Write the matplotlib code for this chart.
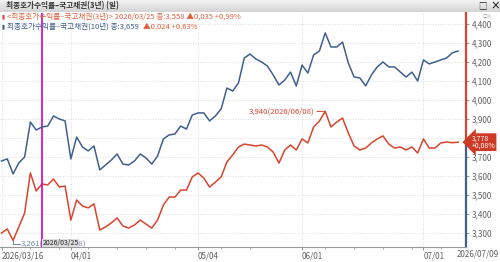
import matplotlib.pyplot as plt
import numpy as np
import pandas as pd

plt.rcParams['font.family'] = ['Noto Sans CJK KR', 'DejaVu Sans']

# trading days (KRX holidays removed)
holidays = ['2026-05-01', '2026-05-05', '2026-05-25', '2026-06-03']
dates = [d for d in pd.bdate_range('2026-03-16', '2026-07-09')
         if d.strftime('%Y-%m-%d') not in holidays]

ktb3 = [3.300, 3.321, 3.261, 3.332, 3.405, 3.616, 3.521, 3.558, 3.553, 3.584,
        3.542, 3.547, 3.368, 3.474, 3.442, 3.432, 3.453, 3.316, 3.332, 3.353,
        3.379, 3.337, 3.326, 3.342, 3.368, 3.347, 3.326, 3.368, 3.447, 3.489,
        3.489, 3.526, 3.526, 3.595, 3.616, 3.589, 3.542, 3.568, 3.595, 3.674,
        3.711, 3.753, 3.768, 3.763, 3.758, 3.763, 3.753, 3.726, 3.668, 3.737,
        3.763, 3.737, 3.795, 3.774, 3.858, 3.889, 3.940, 3.858, 3.884, 3.905,
        3.826, 3.758, 3.737, 3.747, 3.774, 3.795, 3.811, 3.768, 3.747, 3.753,
        3.737, 3.753, 3.721, 3.795, 3.747, 3.747, 3.774, 3.779, 3.775, 3.778]

ktb10 = [3.480, 3.491, 3.412, 3.470, 3.501, 3.685, 3.643, 3.659, 3.664, 3.717,
         3.701, 3.691, 3.491, 3.606, 3.554, 3.533, 3.559, 3.433, 3.459, 3.485,
         3.517, 3.464, 3.459, 3.480, 3.517, 3.496, 3.464, 3.506, 3.596, 3.617,
         3.622, 3.664, 3.648, 3.722, 3.733, 3.733, 3.691, 3.717, 3.754, 3.864,
         3.848, 3.891, 4.022, 4.043, 4.017, 4.001, 3.980, 3.933, 3.880, 3.906,
         3.948, 3.875, 3.985, 3.943, 4.038, 4.059, 4.154, 4.080, 4.080, 4.106,
         3.996, 3.922, 3.917, 3.875, 3.933, 3.975, 4.001, 3.975, 3.975, 3.948,
         3.922, 3.948, 3.901, 4.012, 3.991, 4.001, 4.012, 4.022, 4.049, 4.059]

tick_dates = ['2026-03-16', '2026-04-01', '2026-05-04', '2026-06-01', '2026-07-01']
tick_labels = ['2026/03/16', '04/01', '05/04', '06/01', '07/01']
ytick_vals = [3.3, 3.4, 3.5, 3.6, 3.7, 3.8, 3.9, 4.0, 4.1, 4.2, 4.3, 4.4]
cursor_date = '2026-03-25'

red = '#d8442e'
blue = '#3f5f8e'
grey = '#606060'

idx = {d.strftime('%Y-%m-%d'): i for i, d in enumerate(dates)}
x = np.arange(len(dates))

fig = plt.figure(figsize=(5, 2.62), dpi=100)
ax = fig.add_axes([0, 15 / 262, 466 / 500, 234 / 262])
ax.set_xlim(-0.26, 80.36)
ax.set_ylim(3.2263, 4.4579)

ax2 = ax.twinx()
ax2.set_ylim(3.2263 - 0.199, 4.4579 - 0.199)
ax2.axis('off')

ax.plot(x, ktb3, color=red, lw=1.1, zorder=3)
ax2.plot(x, ktb10, color=blue, lw=1.1)

# grid
ax.set_yticks(ytick_vals)
ax.set_yticklabels([f'{v:.3f}'.replace('.', ',') for v in ytick_vals])
ax.yaxis.tick_right()
ax.tick_params(axis='y', labelsize=5.8, labelcolor=grey, length=2, color='#999999', pad=2)
tick_pos = [idx[d] for d in tick_dates]
ax.set_xticks(tick_pos)
ax.set_xticklabels(tick_labels, ha='left')
mondays = [i for i, d in enumerate(dates) if d.weekday() == 0]
ax.set_xticks(mondays, minor=True)
ax.tick_params(axis='x', labelsize=5.8, labelcolor=grey, length=2, color='#999999', pad=1.5)
ax.tick_params(axis='x', which='minor', length=1.5, color='#999999')
ax.grid(True, color='#d4d4d4', linestyle=(0, (1, 2)), lw=0.6)
for s in ['left', 'top', 'right']:
    ax.spines[s].set_visible(False)
ax.spines['bottom'].set_color('#999999')
fig.text(499 / 500, 1 - 249.5 / 262, '2026/07/09', ha='right', va='top',
         fontsize=5.8, color=grey)

# right axis line split at last value
ytr = ax.get_yaxis_transform()
ax.plot([1, 1], [ktb3[-1], ax.get_ylim()[1]], transform=ytr, color=red, lw=1.6, clip_on=False)
ax.plot([1, 1], [ax.get_ylim()[0], ktb3[-1]], transform=ytr, color=blue, lw=1.6, clip_on=False)
ax.text(1.012, ktb3[-1], f'{ktb3[-1]:.3f}'.replace('.', ',') + '\n+0,08%', transform=ytr,
        ha='left', va='center', fontsize=5, color='white', linespacing=0.95,
        bbox=dict(boxstyle='larrow,pad=0.15', fc='#cf3a26', ec='none'), zorder=5, clip_on=False)

# cursor
ci = idx[cursor_date]
ax.axvline(ci, color='#cc00cc', lw=1.2, zorder=4)
ax.text(ci + 0.1, 3.2263, cursor_date.replace('-', '/'), ha='left', va='bottom', fontsize=5,
        color='#222222', zorder=6,
        bbox=dict(boxstyle='square,pad=0.05', fc='#dddddd', ec='none'))

# max / min annotations
imax = int(np.argmax(ktb3))
ax.annotate(f'{ktb3[imax]:.3f}'.replace('.', ',') + '(' + dates[imax].strftime('%Y/%m/%d') + ')',
            xy=(imax, ktb3[imax]), xytext=(-8, 0), textcoords='offset points',
            ha='right', va='center', fontsize=5.6, color=red,
            arrowprops=dict(arrowstyle='-', color=red, lw=0.7, shrinkA=0, shrinkB=0))
imin = int(np.argmin(ktb3))
ax.plot([imin, imin, imin + 1.2], [ktb3[imin], 3.242, 3.242], color='#6a86b0', lw=0.7)
ax.text(imin + 1.3, 3.242, f'{ktb3[imin]:.3f}'.replace('.', ',') + '(' + dates[imin].strftime('%Y/%m/%d') + ')',
        ha='left', va='center', fontsize=5.6, color='#6a86b0')

# header bar
hax = fig.add_axes([0, 1 - 12 / 262, 1, 12 / 262])
grad = np.linspace(0.95, 0.83, 20).reshape(-1, 1)
hax.imshow(grad, aspect='auto', cmap='gray', vmin=0, vmax=1, extent=[0, 1, 0, 1])
hax.axis('off')
hax.text(0.012, 0.5, '최종호가수익률–국고채권(3년) (일)', va='center', ha='left',
         fontsize=5.5, color='#333333', fontweight='bold')
hax.text(0.965, 0.5, '□', va='center', ha='center', fontsize=6, color='#222222')
hax.text(0.99, 0.5, '×', va='center', ha='center', fontsize=7, color='#222222', fontweight='bold')
fig.text(0.975, 1 - 16 / 262, '□×', fontsize=3.5, color='#999999', ha='center', va='center')

# legend lines
fig.text(2 / 500, 1 - 17 / 262, '▮', fontsize=4, color=red, va='center')
fig.text(7 / 500, 1 - 17 / 262,
         '<최종호가수익률–국고채권(3년)> 2026/03/25 종:3,558 ▲0,035 +0,99%',
         fontsize=5.5, color='#e0603f', va='center')
fig.text(2 / 500, 1 - 27 / 262, '▮', fontsize=4, color=blue, va='center')
fig.text(7 / 500, 1 - 27 / 262, '최종호가수익률–국고채권(10년) 종:3,659',
         fontsize=5.5, color=blue, va='center')
fig.text(143 / 500, 1 - 27 / 262, '▲0,024 +0,63%', fontsize=5.5, color='#e0603f', va='center')

fig.savefig('out.png', dpi=100)
